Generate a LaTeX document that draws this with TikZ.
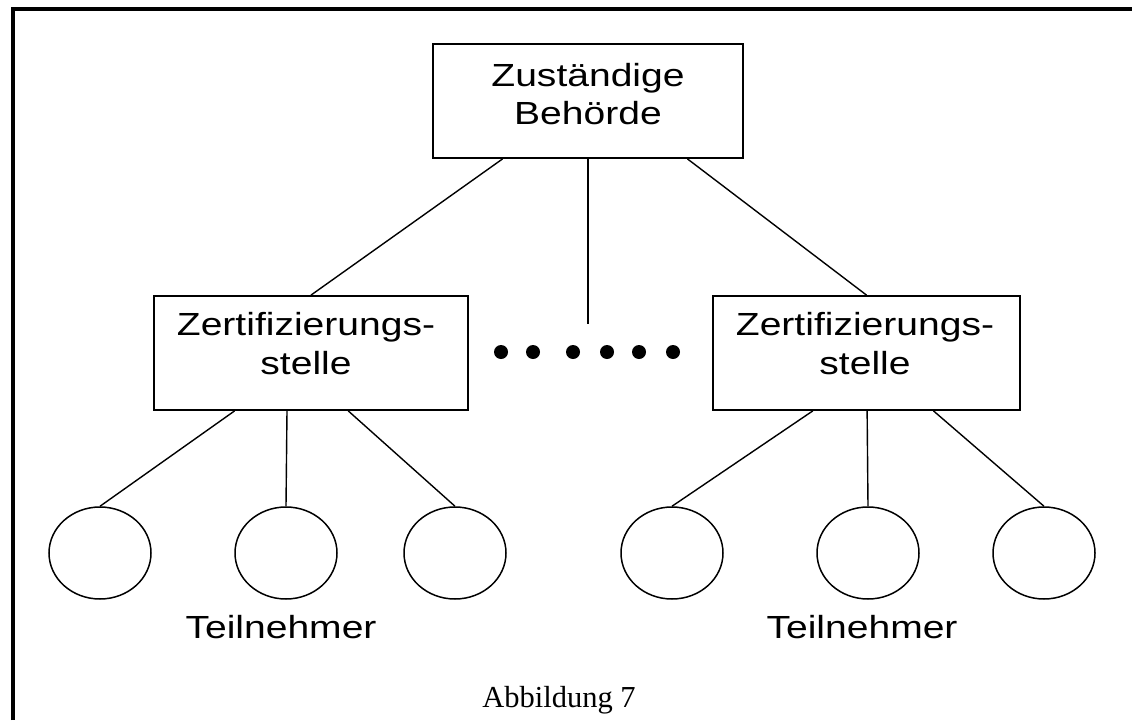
\documentclass[tikz,border=0pt]{standalone}
\usepackage{fontspec}
\setmainfont{Liberation Serif}
\newfontfamily\widesans[FakeStretch=1.22]{Liberation Sans}
\usetikzlibrary{calc,shapes.geometric}

\begin{document}
\begin{tikzpicture}[x=1pt,y=-1pt,
  boxnode/.style={draw, line width=1.8pt, rectangle, inner sep=0pt,
    minimum height=114pt},
  boxtext/.style={font=\widesans\fontsize{32}{38.5}\selectfont, align=center, inner sep=0pt},
  member/.style={draw, line width=1.5pt, ellipse, inner sep=0pt,
    minimum width=102pt, minimum height=92pt},
  link/.style={line width=1.4pt},
  caption/.style={font=\widesans\fontsize{32}{38.5}\selectfont, anchor=base, inner sep=0pt}]
  \useasboundingbox (0,0) rectangle (1132,720);

  % frame (left and top edges)
  \draw[line width=4pt] (13,720) -- (13,9) -- (1132,9);

  % authority and certification bodies
  \node[boxnode, minimum width=310pt] (auth) at (588,101) {};
  \node[boxtext] (authtext) at (588,94) {Zuständige\\Behörde};

  \node[boxnode, minimum width=314pt] (certL) at (311,353) {};
  \node[boxtext] (certLtext) at (306,343.5) {Zertifizierungs-\\stelle};

  \node[boxnode, minimum width=307pt] (certR) at (866.5,353) {};
  \node[boxtext] (certRtext) at (865,343.5) {Zertifizierungs-\\stelle};

  % participants
  \node[member] (pL1) at (100,553) {};
  \node[member] (pL2) at (286,553) {};
  \node[member] (pL3) at (455,553) {};
  \node[member] (pR1) at (672,553) {};
  \node[member] (pR2) at (868,553) {};
  \node[member] (pR3) at (1044,553) {};

  \node[caption] (teilL) at (281,638) {Teilnehmer};
  \node[caption] (teilR) at (862,638) {Teilnehmer};

  \node[font=\fontsize{30.5}{36}\selectfont, anchor=base, inner sep=0pt] (fig) at (559,707) {Abbildung 7};

  % connectors
  \coordinate (midend) at (588,324);
  \draw[link] ($(auth.south west)!0.226!(auth.south east)$) -- (certL.north);
  \draw[link] (auth.south) -- (midend);
  \draw[link] ($(auth.south west)!0.819!(auth.south east)$) -- (certR.north);

  \draw[link] ($(certL.south west)!0.258!(certL.south east)$) -- (pL1.north);
  \draw[link] ($(certL.south west)!0.424!(certL.south east)$) -- (pL2.north);
  \draw[link] ($(certL.south west)!0.618!(certL.south east)$) -- (pL3.north);

  \draw[link] ($(certR.south west)!0.326!(certR.south east)$) -- (pR1.north);
  \draw[link] ($(certR.south west)!0.502!(certR.south east)$) -- (pR2.north);
  \draw[link] ($(certR.south west)!0.717!(certR.south east)$) -- (pR3.north);

  % row of dots between the certification bodies
  \foreach \dx in {501,533,573,607,639,673}
    \fill (\dx,352) circle[radius=7];
\end{tikzpicture}
\end{document}
